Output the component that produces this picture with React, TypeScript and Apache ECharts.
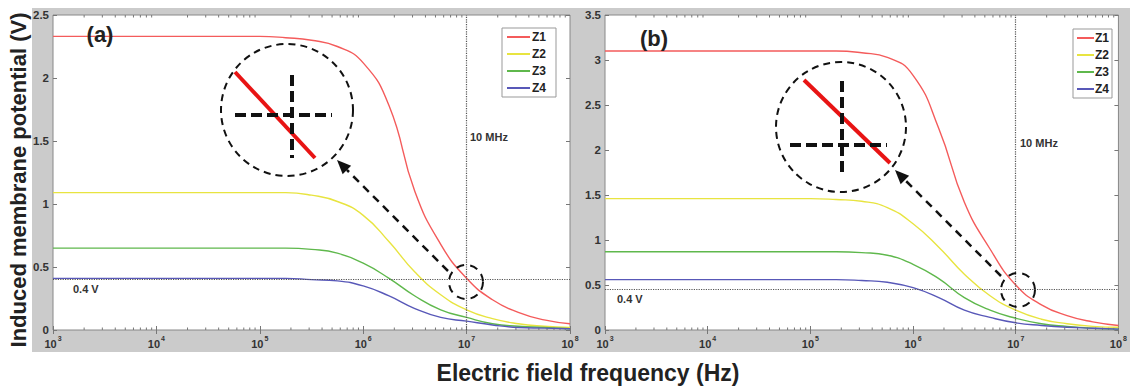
import React, { useEffect, useRef } from 'react';
import * as echarts from 'echarts';

// ---------- data (quarter-decade samples, 10^3 .. 10^8 Hz) ----------
const freqHz = [
  1e3, 1.78e3, 3.16e3, 5.62e3, 1e4, 1.78e4, 3.16e4, 5.62e4, 1e5, 1.78e5, 3.16e5,
  5.62e5, 1e6, 1.78e6, 3.16e6, 5.62e6, 1e7, 1.78e7, 3.16e7, 5.62e7, 1e8,
];

const panelA_Z1 = [2.33, 2.33, 2.33, 2.33, 2.33, 2.33, 2.33, 2.33, 2.33, 2.32, 2.3, 2.25, 2.12, 1.78, 1.1, 0.68, 0.41, 0.24, 0.14, 0.08, 0.05];
const panelA_Z2 = [1.09, 1.09, 1.09, 1.09, 1.09, 1.09, 1.09, 1.09, 1.09, 1.09, 1.07, 1.02, 0.91, 0.7, 0.46, 0.28, 0.16, 0.09, 0.05, 0.03, 0.02];
const panelA_Z3 = [0.65, 0.65, 0.65, 0.65, 0.65, 0.65, 0.65, 0.65, 0.65, 0.65, 0.64, 0.61, 0.53, 0.41, 0.27, 0.16, 0.1, 0.05, 0.03, 0.02, 0.01];
const panelA_Z4 = [0.41, 0.41, 0.41, 0.41, 0.41, 0.41, 0.41, 0.41, 0.41, 0.41, 0.4, 0.39, 0.35, 0.27, 0.17, 0.1, 0.07, 0.04, 0.02, 0.015, 0.01];

const panelB_Z1 = [3.1, 3.1, 3.1, 3.1, 3.1, 3.1, 3.1, 3.1, 3.1, 3.1, 3.08, 3.03, 2.83, 2.24, 1.42, 0.9, 0.5, 0.28, 0.16, 0.09, 0.05];
const panelB_Z2 = [1.46, 1.46, 1.46, 1.46, 1.46, 1.46, 1.46, 1.46, 1.46, 1.45, 1.43, 1.36, 1.18, 0.92, 0.62, 0.38, 0.22, 0.12, 0.07, 0.04, 0.03];
const panelB_Z3 = [0.87, 0.87, 0.87, 0.87, 0.87, 0.87, 0.87, 0.87, 0.87, 0.87, 0.86, 0.83, 0.73, 0.57, 0.36, 0.22, 0.13, 0.07, 0.04, 0.02, 0.01];
const panelB_Z4 = [0.56, 0.56, 0.56, 0.56, 0.56, 0.56, 0.56, 0.56, 0.56, 0.56, 0.55, 0.53, 0.47, 0.36, 0.22, 0.14, 0.08, 0.05, 0.03, 0.02, 0.01];

const seriesNames = ['Z1', 'Z2', 'Z3', 'Z4'];
const seriesColors = ['#f45b5b', '#e8e440', '#5fb84c', '#5858b8'];

const xMin = 1e3;
const xMax = 1e8;
const yMaxA = 2.5;
const yMaxB = 3.5;
const yInterval = 0.5;
const thresholdA = 0.4;
const thresholdB = 0.45;
const markerFreq = 1e7;
const thresholdLabel = '0.4 V';
const freqLabel = '10 MHz';
const minorFreqs: number[] = [];
for (const d of [1e3, 1e4, 1e5, 1e6, 1e7]) for (const m of [2, 3, 4, 5, 6, 7, 8, 9]) minorFreqs.push(m * d);

// ---------- helpers ----------
const labelFont = { color: '#333', fontWeight: 'bold' as const, fontSize: 11, fontFamily: 'Liberation Sans, Arial, sans-serif' };

function xAxes(grid: number) {
  return [
    {
      type: 'log', gridIndex: grid, logBase: 10, min: xMin, max: xMax, splitNumber: 5, position: 'bottom',
      axisLine: { show: false }, splitLine: { show: false },
      axisTick: { inside: true, length: 4, lineStyle: { color: '#777' } },
      axisLabel: {
        margin: 5,
        formatter: (v: number) => `{b|10}{s|${Math.round(Math.log10(v))}}`,
        rich: {
          b: { ...labelFont, fontSize: 11, lineHeight: 14, verticalAlign: 'bottom' },
          s: { ...labelFont, fontSize: 7, lineHeight: 14, verticalAlign: 'top', padding: [0, 0, 0, 1] },
        },
      },
    },
    {
      type: 'log', gridIndex: grid, logBase: 10, min: xMin, max: xMax, splitNumber: 5, position: 'top',
      axisLine: { show: false }, splitLine: { show: false },
      axisTick: { inside: true, length: 4, lineStyle: { color: '#777' } },
      axisLabel: { show: false },
    },
  ];
}

function yAxes(grid: number, max: number) {
  return [
    {
      type: 'value', gridIndex: grid, min: 0, max, interval: yInterval, position: 'left',
      axisLine: { show: false }, splitLine: { show: false },
      axisTick: { inside: true, length: 4, lineStyle: { color: '#777' } },
      axisLabel: { ...labelFont, fontSize: 11.5, margin: 4 },
    },
    {
      type: 'value', gridIndex: grid, min: 0, max, interval: yInterval, position: 'right',
      axisLine: { show: false }, splitLine: { show: false },
      axisTick: { inside: true, length: 4, lineStyle: { color: '#777' } },
      axisLabel: { show: false },
    },
  ];
}

function lineSeries(vals: number[], i: number, xi: number, yi: number, extra: any = {}) {
  return {
    type: 'line', name: seriesNames[i], xAxisIndex: xi, yAxisIndex: yi,
    data: freqHz.map((f, k) => [f, vals[k]]),
    symbol: 'none', smooth: 0.5,
    lineStyle: { color: seriesColors[i], width: 1.4 },
    itemStyle: { color: seriesColors[i] },
    z: 3,
    ...extra,
  };
}

function refLines(threshold: number) {
  return {
    markLine: {
      silent: true, symbol: ['none', 'none'], label: { show: false },
      lineStyle: { type: 'dotted', color: '#555', width: 1.2 },
      data: [{ xAxis: markerFreq }, { yAxis: threshold }],
    },
  };
}

function minorTicks(xi: number, yi: number, ymax: number) {
  return {
    type: 'custom', xAxisIndex: xi, yAxisIndex: yi, silent: true, clip: false, z: 1,
    data: minorFreqs.map((f) => [f, 0]),
    renderItem: (_p: any, api: any) => {
      const f = api.value(0);
      const b = api.coord([f, 0]);
      const t = api.coord([f, ymax]);
      return {
        type: 'group',
        children: [
          { type: 'line', shape: { x1: b[0], y1: b[1], x2: b[0], y2: b[1] - 2.5 }, style: { stroke: '#777', lineWidth: 1 } },
          { type: 'line', shape: { x1: t[0], y1: t[1], x2: t[0], y2: t[1] + 2.5 }, style: { stroke: '#777', lineWidth: 1 } },
        ],
      };
    },
  };
}

function arrow(x1: number, y1: number, x2: number, y2: number) {
  const a = Math.atan2(y2 - y1, x2 - x1);
  const L = 14, W = 6;
  const bx = x2 - L * Math.cos(a), by = y2 - L * Math.sin(a);
  return [
    { type: 'line', z: 50, shape: { x1, y1, x2: bx, y2: by }, style: { stroke: '#111', lineWidth: 2.5, lineDash: [8, 6] } },
    {
      type: 'polygon', z: 50,
      shape: { points: [[x2, y2], [bx + W * Math.sin(a), by - W * Math.cos(a)], [bx - W * Math.sin(a), by + W * Math.cos(a)]] },
      style: { fill: '#111' },
    },
  ];
}

function inset(cx: number, cy: number, r: number, red: number[], vx: number, vy: number[], hy: number, hx: number[], sc: number[]) {
  return [
    { type: 'circle', z: 50, shape: { cx, cy, r }, style: { fill: 'rgba(255,255,255,0)', stroke: '#111', lineWidth: 2, lineDash: [7, 5] } },
    { type: 'line', z: 51, shape: { x1: red[0], y1: red[1], x2: red[2], y2: red[3] }, style: { stroke: '#e81414', lineWidth: 4 } },
    { type: 'line', z: 52, shape: { x1: vx, y1: vy[0], x2: vx, y2: vy[1] }, style: { stroke: '#111', lineWidth: 4, lineDash: [11, 5] } },
    { type: 'line', z: 52, shape: { x1: hx[0], y1: hy, x2: hx[1], y2: hy }, style: { stroke: '#111', lineWidth: 4, lineDash: [11, 5] } },
    { type: 'circle', z: 50, shape: { cx: sc[0], cy: sc[1], r: sc[2] }, style: { fill: 'rgba(255,255,255,0)', stroke: '#111', lineWidth: 2, lineDash: [8, 6] } },
  ];
}

const textStyle = (text: string, size: number) => ({
  text, font: `bold ${size}px "Liberation Sans", Arial, sans-serif`, fill: '#222',
});

const legendBase = {
  data: seriesNames, orient: 'vertical', icon: 'rect', itemHeight: 2, itemGap: 5,
  backgroundColor: '#fff', borderColor: '#999', borderWidth: 1, borderRadius: 0,
};

const option: any = {
  animation: false,
  grid: [
    { left: 53, top: 15, width: 517, height: 315, show: true, backgroundColor: '#fff', borderColor: '#888', borderWidth: 1 },
    { left: 605, top: 15, width: 518, height: 315, show: true, backgroundColor: '#fff', borderColor: '#888', borderWidth: 1 },
  ],
  xAxis: [...xAxes(0), ...xAxes(1)],
  yAxis: [...yAxes(0, yMaxA), ...yAxes(1, yMaxB)],
  legend: [
    {
      ...legendBase, left: 502, top: 28, itemWidth: 23,
      padding: [3, 10, 3, 5],
      textStyle: { ...labelFont, fontSize: 12, color: '#222', padding: [0, 0, 0, -3] },
    },
    {
      ...legendBase, left: 1073, top: 29, itemWidth: 17,
      padding: [3, 3, 3, 4],
      textStyle: { ...labelFont, fontSize: 12, color: '#222', padding: [0, 0, 0, -4] },
    },
  ],
  series: [
    lineSeries(panelA_Z1, 0, 0, 0, refLines(thresholdA)),
    lineSeries(panelA_Z2, 1, 0, 0),
    lineSeries(panelA_Z3, 2, 0, 0),
    lineSeries(panelA_Z4, 3, 0, 0),
    lineSeries(panelB_Z1, 0, 2, 2, refLines(thresholdB)),
    lineSeries(panelB_Z2, 1, 2, 2),
    lineSeries(panelB_Z3, 2, 2, 2),
    lineSeries(panelB_Z4, 3, 2, 2),
    minorTicks(0, 0, yMaxA),
    minorTicks(2, 2, yMaxB),
  ],
  graphic: [
    { type: 'rect', z: -10, silent: true, shape: { x: 32, y: 8, width: 1098, height: 344 }, style: { fill: '#cbcbcb' } },
    { type: 'text', z: 60, x: 18, y: 180, rotation: Math.PI / 2, style: { ...textStyle('Induced membrane potential (V)', 22), align: 'center', verticalAlign: 'middle' } },
    { type: 'text', z: 60, x: 588, y: 373, style: { ...textStyle('Electric field frequency (Hz)', 23), align: 'center', verticalAlign: 'middle' } },
    { type: 'text', z: 60, x: 100, y: 34, style: { ...textStyle('(a)', 22), align: 'center', verticalAlign: 'middle' } },
    { type: 'text', z: 60, x: 654, y: 38, style: { ...textStyle('(b)', 22), align: 'center', verticalAlign: 'middle' } },
    { type: 'text', z: 60, x: 470, y: 137, style: { ...textStyle(freqLabel, 11), fill: '#333', align: 'left', verticalAlign: 'middle' } },
    { type: 'text', z: 60, x: 1020, y: 143, style: { ...textStyle(freqLabel, 11), fill: '#333', align: 'left', verticalAlign: 'middle' } },
    { type: 'text', z: 60, x: 73, y: 289, style: { ...textStyle(thresholdLabel, 11), fill: '#333', align: 'left', verticalAlign: 'middle' } },
    { type: 'text', z: 60, x: 617, y: 299, style: { ...textStyle(thresholdLabel, 11), fill: '#333', align: 'left', verticalAlign: 'middle' } },
    ...inset(287, 110, 66, [235, 72, 315, 158], 292, [75, 158], 115, [235, 332], [466, 282, 17]),
    ...arrow(448, 271, 337, 160),
    ...inset(841, 127, 65, [804, 80, 890, 163], 842, [81, 174], 145, [790, 887], [1018, 290, 17]),
    ...arrow(1001, 276, 895, 170),
  ],
};

export default function App() {
  const ref = useRef<HTMLDivElement>(null);
  useEffect(() => {
    document.body.style.margin = '0';
    const chart = echarts.init(ref.current!, null, { renderer: 'svg' });
    chart.setOption(option);
    return () => chart.dispose();
  }, []);
  return <div ref={ref} style={{ width: 1130, height: 390 }} />;
}
